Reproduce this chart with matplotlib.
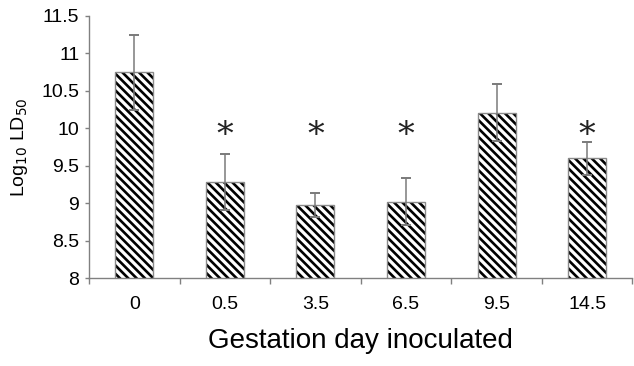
import matplotlib.pyplot as plt
import numpy as np

plt.rcParams["font.family"] = ["Liberation Sans", "DejaVu Sans"]
plt.rcParams["hatch.linewidth"] = 1.9

days = ["0", "0.5", "3.5", "6.5", "9.5", "14.5"]
log_ld50 = [10.75, 9.28, 8.97, 9.02, 10.21, 9.60]
errors = [0.50, 0.37, 0.16, 0.31, 0.38, 0.22]
significant = [False, True, True, True, False, True]
star_level = 9.9

fig = plt.figure(figsize=(6.34, 3.66), dpi=100)
ax = fig.add_axes([0.1404, 0.2404, 0.857, 0.7159])

x = np.arange(len(days))
# hatch in black, outline in grey (drawn as two layers)
ax.bar(x, log_ld50, width=0.42, color="white", edgecolor="black",
       linewidth=0, hatch="\\\\\\\\", zorder=2)
ax.bar(x, log_ld50, width=0.42, fill=False, edgecolor="#8a8a8a",
       linewidth=1.0, zorder=2.5)
ax.errorbar(x, log_ld50, yerr=errors, fmt="none", ecolor="#7a7a7a",
            elinewidth=1.1, capsize=3.5, capthick=1.4, zorder=3)

for xi, sig in zip(x, significant):
    if sig:
        ax.text(xi, star_level, "*", ha="center", va="center", fontsize=24,
                family="DejaVu Serif", color="#222222")

ax.set_xlim(-0.5, len(days) - 0.5)
ax.set_ylim(8, 11.5)
ax.set_yticks(np.arange(8, 11.51, 0.5))
ax.set_yticklabels(["8", "8.5", "9", "9.5", "10", "10.5", "11", "11.5"])
ax.set_xticks(x)
ax.set_xticklabels(days)
ax.set_xticks(np.arange(-0.5, len(days), 1.0), minor=True)
ax.tick_params(axis="x", which="major", length=0, pad=13, labelsize=14)
ax.tick_params(axis="x", which="minor", length=4, color="#808080", width=1)
ax.tick_params(axis="y", length=3, color="#808080", width=1, labelsize=14, pad=4)

for side in ("top", "right"):
    ax.spines[side].set_visible(False)
for side in ("left", "bottom"):
    ax.spines[side].set_color("#808080")
    ax.spines[side].set_linewidth(1.0)

ax.set_xlabel("Gestation day inoculated", fontsize=20, labelpad=11)
ax.set_ylabel("Log$_{10}$ LD$_{50}$", fontsize=14, labelpad=8)

fig.savefig("out.png", dpi=100)
